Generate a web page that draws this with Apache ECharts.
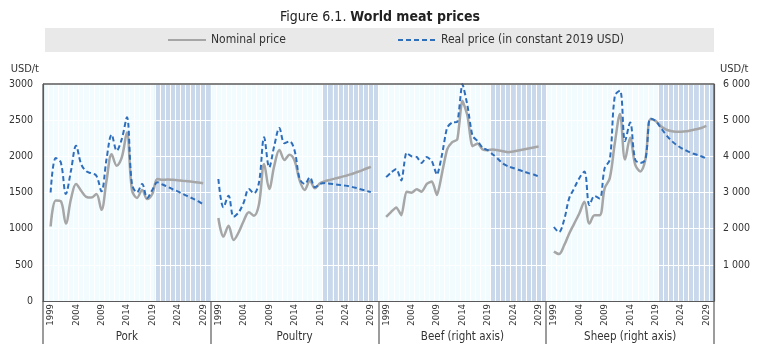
<!DOCTYPE html>
<html>
<head>
<meta charset="utf-8">
<script src="https://cdn.jsdelivr.net/npm/echarts@6/dist/echarts.min.js"></script>
<style>html,body{margin:0;padding:0;background:#fff}#c{width:760px;height:344px}</style>
</head>
<body>
<div id="c"></div>
<script>
// ---- Data (USD/t) ----
const years = [];
for (let y = 1999; y <= 2029; y++) years.push(String(y));
const projectionStart = 2020;
const panelNames = ['Pork', 'Poultry', 'Beef (right axis)', 'Sheep (right axis)'];

const porkNominal = [1030,1390,1380,1070,1410,1618,1525,1440,1430,1480,1260,1665,2030,1870,1985,2330,1535,1425,1535,1410,1480,1687,1675,1678,1675,1670,1662,1655,1647,1638,1628];
const porkReal    = [1500,1977,1917,1480,1800,2147,1894,1793,1765,1733,1516,1963,2300,2078,2240,2540,1618,1502,1618,1424,1535,1640,1610,1580,1545,1515,1480,1448,1415,1380,1335];

const poultryNominal = [1148,890,1042,843,950,1110,1226,1180,1341,1894,1548,1871,2088,1950,2023,1940,1664,1535,1664,1558,1627,1655,1675,1695,1712,1730,1750,1775,1800,1828,1855];
const poultryReal    = [1687,1295,1456,1166,1226,1364,1548,1489,1641,2263,1848,2147,2392,2180,2207,2078,1687,1618,1710,1572,1618,1631,1622,1612,1603,1595,1582,1565,1545,1525,1505];

const beefNominal = [2325,2465,2586,2371,3024,2996,3089,3024,3238,3303,2930,3536,4189,4394,4468,5540,5121,4282,4357,4189,4170,4189,4170,4142,4114,4133,4161,4189,4217,4245,4273];
const beefReal    = [3425,3556,3648,3331,4096,4002,3984,3816,3984,3863,3490,4049,4795,4935,4953,6000,5400,4562,4422,4235,4170,4049,3928,3797,3723,3676,3630,3583,3536,3499,3443];

const sheepNominal = [1365,1300,1533,1860,2140,2418,2744,2140,2371,2371,3117,3397,4375,5168,3909,4515,3769,3583,3909,5028,4981,4841,4748,4702,4683,4683,4692,4720,4748,4785,4841];
const sheepReal    = [2046,1905,2232,2837,3117,3397,3583,2651,2903,2837,3676,3909,5680,5820,4422,4935,3909,3816,3909,5046,4981,4795,4608,4450,4329,4235,4161,4096,4049,4002,3937];

const leftTicks = { min: 0, max: 3000, interval: 500 };
const rightTicks = { min: 0, max: 6000, interval: 1000 };

// ---- Layout & style ----
const FONT = "'Liberation Sans Narrow','Arial Narrow','DejaVu Sans Condensed',sans-serif";
const PLOT_LEFT = 43, PLOT_RIGHT = 714, PLOT_TOP = 84, PLOT_BOTTOM = 301, H = 344;
const panelW = (PLOT_RIGHT - PLOT_LEFT) / 4;
const GRAY = '#a6a6a6', BLUE = '#2f6eba', FRAME = '#5a5a5a';
const BG = '#f2fcff', SHADE = '#c9d8eb';

const cats = [''].concat(years, [' ']);
const pad = a => [null].concat(a, [null]);
const panels = [
  { nom: porkNominal, real: porkReal, right: false },
  { nom: poultryNominal, real: poultryReal, right: false },
  { nom: beefNominal, real: beefReal, right: true },
  { nom: sheepNominal, real: sheepReal, right: true }
];

const grids = [], xAxes = [], yAxes = [], series = [];
panels.forEach((p, i) => {
  const left = PLOT_LEFT + i * panelW;
  grids.push({ left: left, width: panelW, top: PLOT_TOP, height: PLOT_BOTTOM - PLOT_TOP,
    show: true, backgroundColor: BG, borderWidth: 0, containLabel: false, outerBoundsMode: 'none' });
  xAxes.push({
    type: 'category', gridIndex: i, data: cats, boundaryGap: true, z: 3,
    name: panelNames[i], nameLocation: 'middle', nameGap: 30, nameMoveOverlap: false,
    nameTextStyle: { fontFamily: FONT, fontSize: 11.5, color: '#333' },
    axisLine: { show: true, lineStyle: { color: FRAME, width: 1.2 } },
    axisTick: { show: false },
    splitLine: { show: true, interval: 0, lineStyle: { color: '#ffffff', width: 1 } },
    axisLabel: {
      rotate: 90, margin: 3, fontFamily: FONT, fontSize: 9.5, color: '#333',
      interval: (idx, v) => v.trim() !== '' && (Number(v) - 1999) % 5 === 0
    }
  });
  const t = p.right ? rightTicks : leftTicks;
  const showLeftLabels = i === 0, showRightLabels = i === 3;
  yAxes.push({
    type: 'value', gridIndex: i, min: t.min, max: t.max, interval: t.interval, z: 3,
    position: i === 3 ? 'right' : 'left',
    name: (showLeftLabels || showRightLabels) ? 'USD/t' : '',
    nameLocation: 'end', nameGap: 9,
    nameTextStyle: { fontFamily: FONT, fontSize: 11, color: '#333',
      align: i === 3 ? 'left' : 'right', padding: i === 3 ? [0, 0, 0, 6] : [0, 4, 0, 0] },
    axisLine: { show: showLeftLabels || showRightLabels, lineStyle: { color: FRAME, width: 1.2 } },
    axisTick: { show: false },
    splitLine: { show: true, lineStyle: { color: '#ffffff', width: 1.2 } },
    axisLabel: {
      show: showLeftLabels || showRightLabels, margin: i === 3 ? 9 : 10, fontFamily: FONT, fontSize: 10.5, color: '#333',
      formatter: v => p.right ? (v === 0 ? '' : (v / 1000) + ' 000') : String(v)
    }
  });
  // projection shading
  series.push({
    type: 'bar', xAxisIndex: i, yAxisIndex: i, silent: true, z: 1, barWidth: '100%',
    itemStyle: { color: SHADE },
    data: cats.map(c => (c === ' ' || (c !== '' && Number(c) >= projectionStart)) ? t.max : null)
  });
  series.push({
    name: 'Nominal price', type: 'line', xAxisIndex: i, yAxisIndex: i, z: 5,
    data: pad(p.nom), smooth: i === 2 ? 0.2 : 0.35, symbol: 'none', showSymbol: false,
    lineStyle: { color: GRAY, width: 2.5 }, itemStyle: { color: GRAY }
  });
  series.push({
    name: 'Real price (in constant 2019 USD)', type: 'line', xAxisIndex: i, yAxisIndex: i, z: 6,
    data: pad(p.real), smooth: i === 2 ? 0.2 : 0.35, symbol: 'none', showSymbol: false,
    lineStyle: { color: BLUE, width: 2, type: [5, 3] }, itemStyle: { color: BLUE }
  });
});

const frameLines = [];
frameLines.push({ type: 'line', z: 10, shape: { x1: PLOT_LEFT, y1: PLOT_TOP, x2: PLOT_RIGHT, y2: PLOT_TOP }, style: { stroke: FRAME, lineWidth: 1.5 } });
for (let i = 0; i <= 4; i++) {
  const x = Math.round(PLOT_LEFT + i * panelW);
  frameLines.push({ type: 'line', z: 10, shape: { x1: x, y1: (i === 0 || i === 4) ? PLOT_TOP : PLOT_BOTTOM, x2: x, y2: H },
    style: { stroke: FRAME, lineWidth: 1.2 } });
}

const legendCommon = { top: 34, itemWidth: 38, itemHeight: 12, itemGap: 5, padding: 0,
  itemStyle: { color: 'rgba(0,0,0,0)', borderWidth: 0 },
  textStyle: { fontFamily: FONT, fontSize: 12, color: '#333' } };

const option = {
  animation: false,
  backgroundColor: '#ffffff',
  title: {
    left: 'center', top: 5,
    text: '{a|Figure 6.1. }{b|World meat prices}',
    textStyle: { fontWeight: 'normal', rich: {
      a: { fontFamily: FONT, fontSize: 14, fontWeight: 'normal', color: '#222' },
      b: { fontFamily: FONT, fontSize: 14, fontWeight: 'bold', color: '#222' }
    } }
  },
  graphic: [{ type: 'rect', z: -1, shape: { x: 45, y: 28, width: 669, height: 24 }, style: { fill: '#e9e9e9' } }].concat(frameLines),
  legend: [
    Object.assign({ data: ['Nominal price'], left: 167 }, legendCommon),
    Object.assign({ data: ['Real price (in constant 2019 USD)'], left: 397 }, legendCommon)
  ],
  grid: grids, xAxis: xAxes, yAxis: yAxes, series: series
};
echarts.init(document.getElementById('c'), null, { renderer: 'canvas' }).setOption(option);
</script>
</body>
</html>
